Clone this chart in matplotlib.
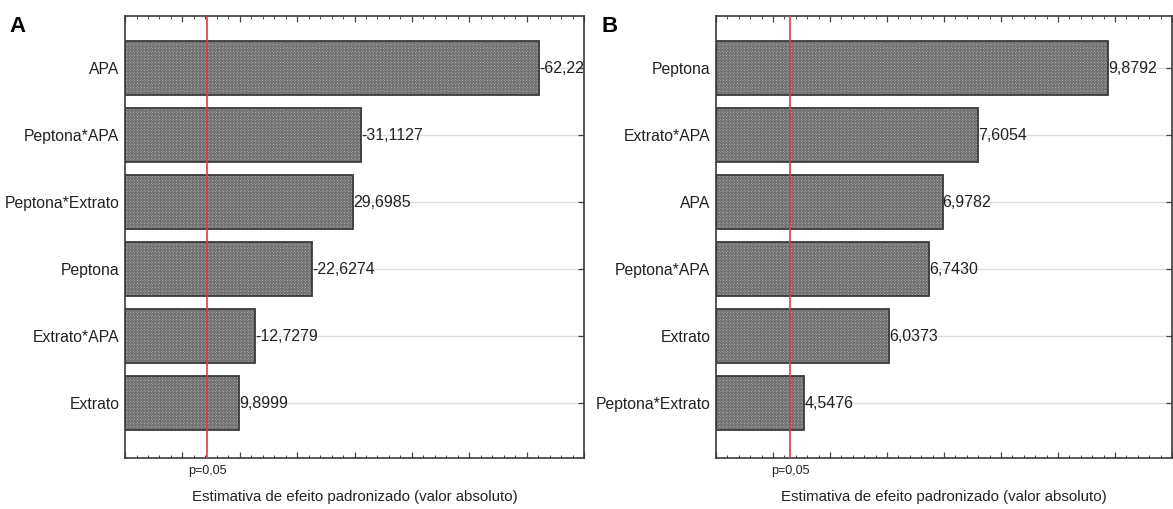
import matplotlib

matplotlib.use("Agg")

import matplotlib.pyplot as plt
import numpy as np
from matplotlib.ticker import MultipleLocator, NullFormatter
import matplotlib.transforms as mtransforms

plt.rcParams["font.family"] = ["Liberation Sans", "DejaVu Sans"]
plt.rcParams["hatch.linewidth"] = 0.8

# Panel A: Pareto chart of standardized effects
terms_a = ["APA", "Peptona*APA", "Peptona*Extrato", "Peptona", "Extrato*APA", "Extrato"]
effects_a = ["-62,22", "-31,1127", "29,6985", "-22,6274", "-12,7279", "9,8999"]

# Panel B
terms_b = ["Peptona", "Extrato*APA", "APA", "Peptona*APA", "Extrato", "Peptona*Extrato"]
effects_b = ["9,8792", "7,6054", "6,9782", "6,7430", "6,0373", "4,5476"]

# t critical value (p=0,05)
p_crit = 4.303

XLIM_A = (-10, 70)
XLIM_B = (3, 11)


def pareto(ax, terms, effects, xlim, major, minor, panel):
    vals = np.abs([float(s.replace(",", ".")) for s in effects])
    pos = np.arange(len(terms))
    ax.set_xlim(*xlim)
    ax.set_ylim(len(terms) - 0.18, -0.78)
    ax.grid(axis="y", color="#dcdcdc", linewidth=1.0, zorder=0)
    ax.set_axisbelow(True)
    # hatched fill, then outline
    ax.barh(pos, vals - xlim[0], left=xlim[0], height=0.8,
            color="#c8c8c8", edgecolor="#727272", linewidth=0,
            hatch="xxxxxxxxxxxx", zorder=2)
    ax.barh(pos, vals - xlim[0], left=xlim[0], height=0.8,
            fill=False, edgecolor="#3a3a3a", linewidth=1.3, zorder=2.5)
    for y, v, s in zip(pos, vals, effects):
        ax.text(v, y, s, ha="left", va="center", fontsize=11.5, color="#222222", zorder=3)
    ax.axvline(p_crit, color="#e03a40", linewidth=1.2, zorder=4)

    ax.set_yticks(pos)
    ax.set_yticklabels(terms, fontsize=11.3, color="#222222")
    ax.xaxis.set_major_locator(MultipleLocator(major))
    ax.xaxis.set_minor_locator(MultipleLocator(minor))
    ax.xaxis.set_major_formatter(NullFormatter())
    ax.tick_params(axis="x", which="both", direction="in", top=True, bottom=True, color="#444444")
    ax.tick_params(axis="x", which="major", length=4, width=0.9)
    ax.tick_params(axis="x", which="minor", length=2.5, width=0.7)
    ax.tick_params(axis="y", direction="in", left=True, right=True, length=4, width=0.9,
                   color="#444444", pad=4)
    for sp in ax.spines.values():
        sp.set_color("#3a3a3a")
        sp.set_linewidth(1.2)

    trans = mtransforms.blended_transform_factory(ax.transData, ax.transAxes)
    ax.text(p_crit, -0.015, "p=0,05", transform=trans, ha="center", va="top",
            fontsize=9, color="#222222")
    ax.text(0.5, -0.088, "Estimativa de efeito padronizado (valor absoluto)",
            transform=ax.transAxes, ha="center", va="center", fontsize=10.8, color="#222222")
    ax.text(-0.252, 1.0, panel, transform=ax.transAxes, fontsize=16, fontweight="bold",
            ha="left", va="top")


fig = plt.figure(figsize=(11.73, 5.09), dpi=100)
ax_a = fig.add_axes([0.1066, 0.1002, 0.3913, 0.8684])
ax_b = fig.add_axes([0.6104, 0.1002, 0.3887, 0.8684])

pareto(ax_a, terms_a, effects_a, XLIM_A, 10, 2, "A")
pareto(ax_b, terms_b, effects_b, XLIM_B, 1, 0.2, "B")

fig.savefig("out.png", dpi=100)
